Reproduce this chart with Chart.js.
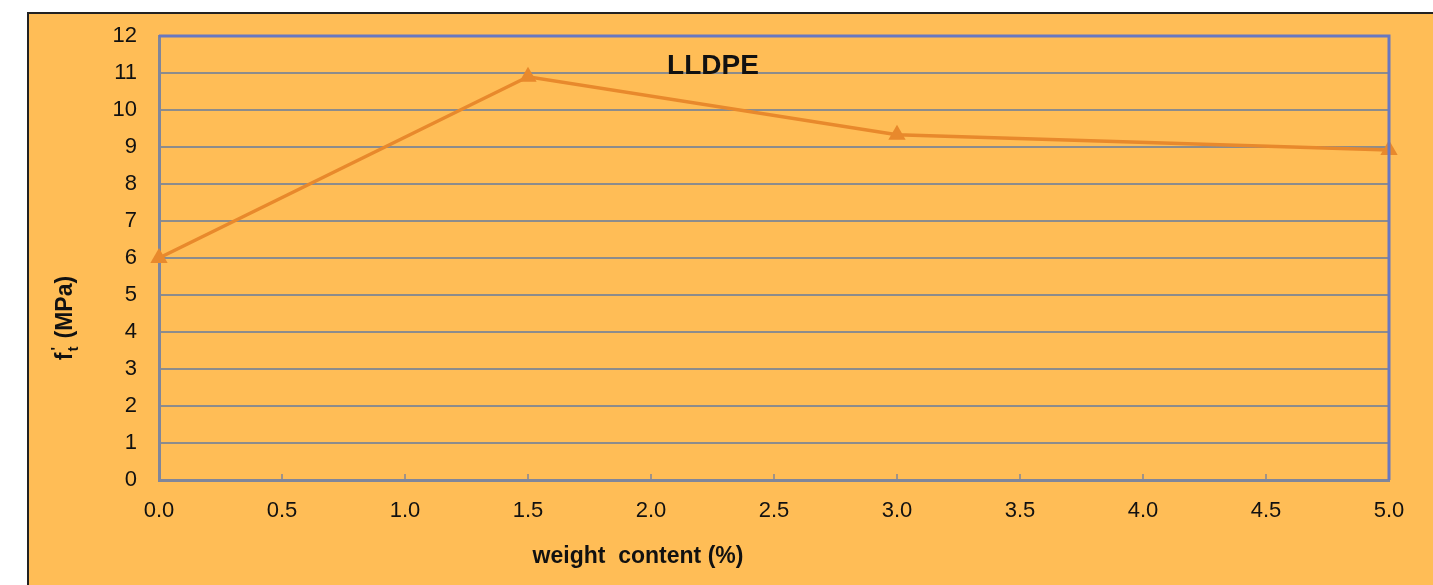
<!DOCTYPE html>
<html>
<head>
<meta charset="utf-8">
<script src="https://cdn.jsdelivr.net/npm/chart.js@4.4.1/dist/chart.umd.min.js"></script>
<style>
  html, body { margin: 0; padding: 0; background: #fff; overflow: hidden; }
  #frame {
    position: absolute; left: 27px; top: 12px; width: 1500px; height: 700px;
    background: #FFBD56; border-top: 2px solid #222; border-left: 2px solid #222;
  }
  #wrap { position: absolute; left: 0; top: 0; width: 1433px; height: 585px; }
</style>
</head>
<body>
<div id="frame"></div>
<div id="wrap"><canvas id="myChart" width="1433" height="585"></canvas></div>
<script>
// ============================================
// Data
// ============================================
const weightContent = [0, 1.5, 3.0, 5.0];        // %
const tensileStrength = [6.0, 10.9, 9.33, 8.92];  // MPa
const xTicks = [0, 0.5, 1, 1.5, 2, 2.5, 3, 3.5, 4, 4.5, 5];
const yTicks = [0, 1, 2, 3, 4, 5, 6, 7, 8, 9, 10, 11, 12];

const FONT = '"Liberation Sans", Arial, sans-serif';
const LINE_COLOR = '#E8892C';
const FRAME_BLUE = '#6878C0';
const AXIS_GRAY = '#80869A';

// ============================================
// Extra drawing: titles, inner ticks, frame
// ============================================
const decorations = {
	id: 'decorations',
	afterDraw(chart) {
		const { ctx, chartArea: a, scales: { x } } = chart;
		ctx.save();

		// small upward tick marks on the x axis
		ctx.strokeStyle = AXIS_GRAY;
		ctx.lineWidth = 1.5;
		xTicks.forEach(v => {
			const px = x.getPixelForValue(v);
			ctx.beginPath();
			ctx.moveTo(px, a.bottom);
			ctx.lineTo(px, a.bottom - 6);
			ctx.stroke();
		});

		// blue top and right border
		ctx.strokeStyle = FRAME_BLUE;
		ctx.lineWidth = 3;
		ctx.beginPath();
		ctx.moveTo(a.left, a.top);
		ctx.lineTo(a.right, a.top);
		ctx.lineTo(a.right, a.bottom);
		ctx.stroke();

		ctx.fillStyle = '#111';
		ctx.textAlign = 'center';
		ctx.textBaseline = 'middle';

		// series label inside the plot
		ctx.font = 'bold 28px ' + FONT;
		ctx.fillText('LLDPE', 713, 66);

		// x axis title
		ctx.font = 'bold 23px ' + FONT;
		ctx.fillText('weight  content (%)', 638, 557);

		// y axis title: f't (MPa), rotated
		ctx.translate(66, 318);
		ctx.rotate(-Math.PI / 2);
		ctx.textAlign = 'left';
		ctx.font = 'bold 23px ' + FONT;
		const fw = ctx.measureText('f').width;
		const rest = ctx.measureText('(MPa)').width;
		const total = fw + 14 + rest;
		const cx = -total / 2;
		ctx.fillText('f', cx, 0);
		ctx.font = 'bold 15px ' + FONT;
		ctx.fillText('t', cx + fw + 1, 8);
		ctx.fillText("'", cx + fw + 2, -9);
		ctx.font = 'bold 23px ' + FONT;
		ctx.fillText('(MPa)', cx + fw + 14, 0);

		ctx.restore();
	}
};

// ============================================
// Chart
// ============================================
new Chart(document.getElementById('myChart'), {
	type: 'line',
	data: {
		datasets: [{
			label: 'LLDPE',
			data: weightContent.map((v, i) => ({ x: v, y: tensileStrength[i] })),
			borderColor: LINE_COLOR,
			backgroundColor: LINE_COLOR,
			borderWidth: 3.5,
			pointStyle: 'triangle',
			pointRadius: 10,
			pointBorderWidth: 0,
			tension: 0
		}]
	},
	options: {
		responsive: false,
		animation: false,
		clip: false,
		layout: { padding: { left: 0, top: 36, right: 44, bottom: 0 } },
		plugins: { legend: { display: false }, tooltip: { enabled: false } },
		scales: {
			x: {
				type: 'linear',
				min: 0,
				max: 5,
				afterFit: s => { s.height = 105; },
				afterBuildTicks: s => { s.ticks = xTicks.map(v => ({ value: v })); },
				ticks: {
					color: '#111',
					font: { family: FONT, size: 22 },
					padding: 18,
					callback: v => Number(v).toFixed(1)
				},
				grid: { display: false, drawTicks: false },
				border: { display: true, color: AXIS_GRAY, width: 3 }
			},
			y: {
				min: 0,
				max: 12,
				afterFit: s => { s.width = 159; },
				afterBuildTicks: s => { s.ticks = yTicks.map(v => ({ value: v })); },
				ticks: {
					color: '#111',
					font: { family: FONT, size: 22 },
					padding: 22
				},
				grid: { color: '#8C8C8C', lineWidth: 2, drawTicks: false },
				border: { display: true, color: AXIS_GRAY, width: 3 }
			}
		}
	},
	plugins: [decorations]
});
</script>
</body>
</html>
